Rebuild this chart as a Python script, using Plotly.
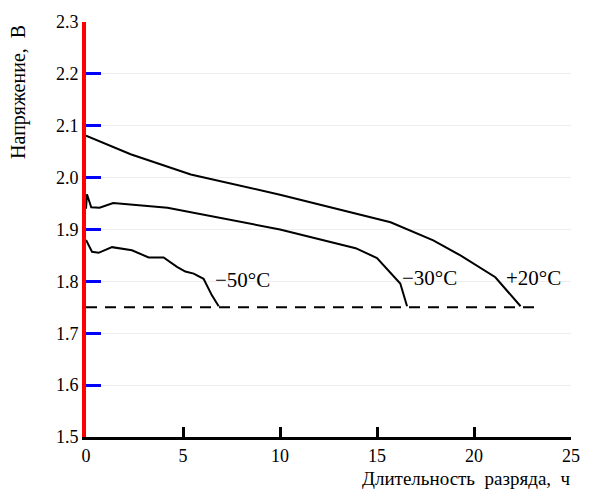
import plotly.graph_objects as go

# Data
t_p20 = [0.0, 2.3, 5.4, 9.0, 10.0, 15.7, 17.9, 19.3, 21.1, 22.4]
u_p20 = [2.081, 2.045, 2.006, 1.976, 1.967, 1.914, 1.879, 1.850, 1.808, 1.752]

t_m30 = [0.0, 0.05, 0.27, 0.7, 1.4, 4.2, 10.0, 13.9, 15.0, 16.2, 16.55]
u_m30 = [1.94, 1.968, 1.943, 1.942, 1.951, 1.942, 1.900, 1.864, 1.845, 1.796, 1.752]

t_m50 = [0.0, 0.31, 0.65, 1.34, 2.37, 3.23, 4.0, 4.69, 5.12, 5.55, 6.06, 6.49, 6.84]
u_m50 = [1.88, 1.857, 1.855, 1.866, 1.860, 1.846, 1.846, 1.828, 1.819, 1.815, 1.805, 1.773, 1.752]

cutoff_t = [0.0, 23.3]
cutoff_u = [1.75, 1.75]

labels = ["−50°C", "−30°C", "+20°C"]
label_t = [6.55, 16.2, 21.55]
label_u = [1.803, 1.806, 1.806]

x_ticks = [0, 5, 10, 15, 20, 25]
y_ticks = [1.5, 1.6, 1.7, 1.8, 1.9, 2.0, 2.1, 2.2, 2.3]
y_ticktext = ["1.5", "1.6", "1.7", "1.8", "1.9", "2.0", "2.1", "2.2", "2.3"]

FONT = "Liberation Serif"
INK = "#000000"

fig = go.Figure()
for tx, uy in [(t_p20, u_p20), (t_m30, u_m30), (t_m50, u_m50)]:
    fig.add_trace(go.Scatter(x=tx, y=uy, mode="lines", line=dict(color=INK, width=2),
                             hoverinfo="skip"))
fig.add_trace(go.Scatter(x=cutoff_t, y=cutoff_u, mode="lines",
                         line=dict(color=INK, width=2, dash="11px,8px"),
                         hoverinfo="skip"))

for txt, lx, ly in zip(labels, label_t, label_u):
    fig.add_annotation(x=lx, y=ly, text=txt, showarrow=False,
                       xanchor="left", yanchor="middle",
                       font=dict(family=FONT, size=21, color=INK))

fig.add_annotation(xref="paper", yref="paper", x=-0.138, y=0.998,
                   text="Напряжение,  В", textangle=-90, showarrow=False,
                   xanchor="center", yanchor="top",
                   font=dict(family=FONT, size=20, color=INK))
fig.add_annotation(xref="paper", yref="paper", x=1.004, y=-0.0995,
                   text="Длительность  разряда,  ч", showarrow=False,
                   xanchor="right", yanchor="middle",
                   font=dict(family=FONT, size=19, color=INK))

fig.update_layout(
    template="none", showlegend=False,
    width=589, height=496,
    margin=dict(l=78, r=26, t=14, b=67),
    xaxis=dict(range=[0, 25], tickvals=x_ticks, showline=True, linecolor=INK, linewidth=3,
               ticks="inside", ticklen=10, tickwidth=3, tickcolor=INK,
               showgrid=False, zeroline=False,
               tickfont=dict(family=FONT, size=18, color=INK)),
    yaxis=dict(range=[1.5, 2.3], tickvals=y_ticks, ticktext=y_ticktext,
               showline=True, linecolor="red", linewidth=4,
               ticks="inside", ticklen=15, tickwidth=3, tickcolor="blue",
               tickfont=dict(family=FONT, size=18, color=INK)),
)

fig.write_html("out.html")
